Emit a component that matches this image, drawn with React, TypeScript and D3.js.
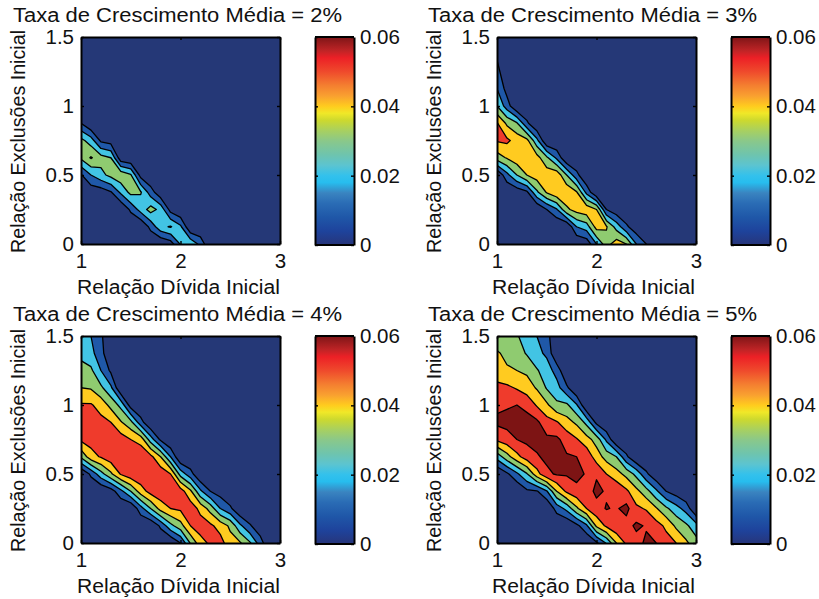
import React, { useRef, useEffect } from 'react';
import * as d3 from 'd3';

// grid of the surface: x = 1..3 step 0.1, y = 0..1.5 step 0.125
const debtRatios = d3.range(21).map(i => 1 + i / 10);
const exclusionRatios = d3.range(13).map(j => j / 8);

// values in thousandths, one list per x column, from y = 0 up to y = 1.5
const growth2 = [
    [0, 0, 0, 0, 9, 32, 33, 10, 0, 0, 0, 0, 0],
    [0, 0, 0, 3, 20, 41, 25, 0, 0, 0, 0, 0, 0],
    [0, 0, 0, 4, 27, 34, 8, 0, 0, 0, 0, 0, 0],
    [0, 0, 0, 9, 33, 30, 5, 0, 0, 0, 0, 0, 0],
    [0, 0, 0, 22, 37, 3, 0, 0, 0, 0, 0, 0, 0],
    [0, 0, 12, 33, 31, 0, 0, 0, 0, 0, 0, 0, 0],
    [0, 0, 24, 31, 6, 0, 0, 0, 0, 0, 0, 0, 0],
    [0, 13, 34, 15, 0, 0, 0, 0, 0, 0, 0, 0, 0],
    [0, 27, 27, 2, 0, 0, 0, 0, 0, 0, 0, 0, 0],
    [5, 31, 6, 0, 0, 0, 0, 0, 0, 0, 0, 0, 0],
    [21, 22, 0, 0, 0, 0, 0, 0, 0, 0, 0, 0, 0],
    [28, 0, 0, 0, 0, 0, 0, 0, 0, 0, 0, 0, 0],
    [17, 0, 0, 0, 0, 0, 0, 0, 0, 0, 0, 0, 0],
    [0, 0, 0, 0, 0, 0, 0, 0, 0, 0, 0, 0, 0],
    [0, 0, 0, 0, 0, 0, 0, 0, 0, 0, 0, 0, 0],
    [0, 0, 0, 0, 0, 0, 0, 0, 0, 0, 0, 0, 0],
    [0, 0, 0, 0, 0, 0, 0, 0, 0, 0, 0, 0, 0],
    [0, 0, 0, 0, 0, 0, 0, 0, 0, 0, 0, 0, 0],
    [0, 0, 0, 0, 0, 0, 0, 0, 0, 0, 0, 0, 0],
    [0, 0, 0, 0, 0, 0, 0, 0, 0, 0, 0, 0, 0],
    [0, 0, 0, 0, 0, 0, 0, 0, 0, 0, 0, 0, 0],
];

const growth3 = [
    [0, 0, 0, 0, 0, 35, 51, 51, 30, 20, 14, 8, 0],
    [0, 0, 0, 0, 17, 41, 52, 38, 15, 6, 0, 0, 0],
    [0, 0, 0, 3, 30, 46, 46, 31, 0, 0, 0, 0, 0],
    [0, 0, 0, 8, 40, 45, 43, 12, 0, 0, 0, 0, 0],
    [0, 0, 0, 28, 45, 44, 23, 0, 0, 0, 0, 0, 0],
    [0, 0, 10, 41, 46, 32, 0, 0, 0, 0, 0, 0, 0],
    [0, 0, 19, 48, 47, 18, 0, 0, 0, 0, 0, 0, 0],
    [0, 0, 38, 48, 30, 0, 0, 0, 0, 0, 0, 0, 0],
    [0, 20, 44, 41, 13, 0, 0, 0, 0, 0, 0, 0, 0],
    [3, 25, 47, 17, 0, 0, 0, 0, 0, 0, 0, 0, 0],
    [20, 44, 40, 0, 0, 0, 0, 0, 0, 0, 0, 0, 0],
    [36, 41, 10, 0, 0, 0, 0, 0, 0, 0, 0, 0, 0],
    [45, 26, 3, 0, 0, 0, 0, 0, 0, 0, 0, 0, 0],
    [40, 12, 0, 0, 0, 0, 0, 0, 0, 0, 0, 0, 0],
    [20, 3, 0, 0, 0, 0, 0, 0, 0, 0, 0, 0, 0],
    [10, 0, 0, 0, 0, 0, 0, 0, 0, 0, 0, 0, 0],
    [0, 0, 0, 0, 0, 0, 0, 0, 0, 0, 0, 0, 0],
    [0, 0, 0, 0, 0, 0, 0, 0, 0, 0, 0, 0, 0],
    [0, 0, 0, 0, 0, 0, 0, 0, 0, 0, 0, 0, 0],
    [0, 0, 0, 0, 0, 0, 0, 0, 0, 0, 0, 0, 0],
    [0, 0, 0, 0, 0, 0, 0, 0, 0, 0, 0, 0, 0],
];

const growth4 = [
    [0, 0, 0, 0, 0, 32, 52, 54, 51, 40, 34, 27, 22],
    [0, 0, 0, 0, 12, 46, 54, 54, 51, 39, 32, 23, 20],
    [0, 0, 0, 0, 26, 51, 54, 53, 46, 32, 20, 14, 12],
    [0, 0, 0, 5, 38, 56, 56, 50, 37, 22, 8, 0, 0],
    [0, 0, 0, 17, 51, 57, 55, 41, 27, 0, 0, 0, 0],
    [0, 0, 0, 30, 57, 57, 50, 33, 5, 0, 0, 0, 0],
    [0, 0, 16, 45, 58, 58, 46, 14, 0, 0, 0, 0, 0],
    [0, 0, 30, 54, 59, 53, 25, 0, 0, 0, 0, 0, 0],
    [0, 12, 44, 57, 57, 40, 8, 0, 0, 0, 0, 0, 0],
    [0, 27, 50, 56, 50, 20, 0, 0, 0, 0, 0, 0, 0],
    [10, 36, 52, 55, 26, 0, 0, 0, 0, 0, 0, 0, 0],
    [31, 50, 56, 42, 14, 0, 0, 0, 0, 0, 0, 0, 0],
    [46, 55, 47, 22, 0, 0, 0, 0, 0, 0, 0, 0, 0],
    [52, 52, 36, 10, 0, 0, 0, 0, 0, 0, 0, 0, 0],
    [54, 46, 20, 5, 0, 0, 0, 0, 0, 0, 0, 0, 0],
    [44, 38, 12, 0, 0, 0, 0, 0, 0, 0, 0, 0, 0],
    [41, 22, 0, 0, 0, 0, 0, 0, 0, 0, 0, 0, 0],
    [31, 11, 0, 0, 0, 0, 0, 0, 0, 0, 0, 0, 0],
    [15, 3, 0, 0, 0, 0, 0, 0, 0, 0, 0, 0, 0],
    [0, 0, 0, 0, 0, 0, 0, 0, 0, 0, 0, 0, 0],
    [0, 0, 0, 0, 0, 0, 0, 0, 0, 0, 0, 0, 0],
];

const growth5 = [
    [0, 0, 0, 0, 0, 24, 52, 62, 58, 52, 46, 41, 35],
    [0, 0, 0, 0, 8, 36, 56, 63, 59, 52, 41, 38, 34],
    [0, 0, 0, 0, 18, 47, 60, 64, 60, 49, 40, 35, 31],
    [0, 0, 0, 8, 29, 55, 62, 64, 57, 45, 38, 29, 25],
    [0, 0, 0, 9, 46, 59, 63, 62, 49, 39, 31, 23, 20],
    [0, 0, 0, 19, 58, 62, 62, 54, 42, 29, 25, 18, 14],
    [0, 0, 14, 40, 61, 63, 62, 51, 32, 24, 16, 0, 0],
    [0, 0, 23, 52, 61, 61, 56, 44, 32, 12, 0, 0, 0],
    [0, 7, 38, 57, 63, 60, 51, 38, 21, 0, 0, 0, 0],
    [0, 18, 50, 56, 59, 57, 44, 27, 0, 0, 0, 0, 0],
    [8, 42, 57, 62, 59, 45, 36, 7, 0, 0, 0, 0, 0],
    [21, 52, 60.5, 59, 50, 36, 18, 0, 0, 0, 0, 0, 0],
    [40, 58, 59, 58, 44, 30, 0, 0, 0, 0, 0, 0, 0],
    [52, 56, 63, 52, 37, 12, 0, 0, 0, 0, 0, 0, 0],
    [56, 62, 52, 43, 27, 0, 0, 0, 0, 0, 0, 0, 0],
    [62, 59, 49, 34, 12, 0, 0, 0, 0, 0, 0, 0, 0],
    [60, 54, 41, 22, 2, 0, 0, 0, 0, 0, 0, 0, 0],
    [54, 48, 32, 10, 0, 0, 0, 0, 0, 0, 0, 0, 0],
    [50, 38, 24, 5, 0, 0, 0, 0, 0, 0, 0, 0, 0],
    [42, 32, 16, 0, 0, 0, 0, 0, 0, 0, 0, 0, 0],
    [34, 24, 0, 0, 0, 0, 0, 0, 0, 0, 0, 0, 0],
];

const growthRates = ['2%', '3%', '4%', '5%'];
const grids = [growth2, growth3, growth4, growth5];

const levels = [10, 20, 30, 40, 50, 60];
const bandColors = ['#253877', '#1f58a8', '#42c4e4', '#8fcb70', '#ffcb20', '#ef3b2c', '#7d1414'];

const xTicks = [1, 2, 3];
const yTicks = [0, 0.5, 1, 1.5];
const barTicks = [0, 0.02, 0.04, 0.06];

const barStopValues = [0, 0.004, 0.008, 0.012, 0.015, 0.018, 0.02, 0.023, 0.026, 0.03, 0.033, 0.036, 0.038, 0.04, 0.043, 0.046, 0.05, 0.054, 0.056, 0.06];
const barStopColors = ['#27357a', '#1e439c', '#1f57a8', '#2a6cb5', '#3a84c0', '#27bdee', '#33c1ec', '#5cc4d0', '#6ec4ae', '#8ac88a', '#a8d060', '#cdd92e', '#f0e828', '#ffcc1e', '#f9a030', '#f47f30', '#ef4a2c', '#ec2026', '#c02426', '#7e1517'];

const FONT = '"Liberation Sans", Arial, sans-serif';

const drawPanel = (root, grid, rate, index, left, top, labelLeft, titleLeft) => {
    const plotW = 199;
    const plotH = 207;
    const g = root.append('g').attr('transform', `translate(${left},${top})`);

    const x = d3.scaleLinear().domain([1, 3]).range([0, plotW]);
    const y = d3.scaleLinear().domain([0, 1.5]).range([plotH, 0]);

    // d3.contours puts sample i at i + 0.5
    const cellX = d3.scaleLinear().domain([0.5, debtRatios.length - 0.5]).range([x(1), x(3)]);
    const cellY = d3.scaleLinear().domain([0.5, exclusionRatios.length - 0.5]).range([y(0), y(1.5)]);
    const path = d3.geoPath(d3.geoTransform({
        point(px, py) { this.stream.point(cellX(px), cellY(py)); }
    }));

    const flat = [];
    exclusionRatios.forEach((_, j) => debtRatios.forEach((_, i) => flat.push(grid[i][j])));
    const bands = d3.contours().size([debtRatios.length, exclusionRatios.length]).thresholds(levels)(flat);

    const clipId = `plot-clip-${index}`;
    g.append('clipPath').attr('id', clipId)
        .append('rect').attr('width', plotW).attr('height', plotH);

    const field = g.append('g').attr('clip-path', `url(#${clipId})`);
    field.append('rect').attr('width', plotW).attr('height', plotH).attr('fill', bandColors[0]);
    field.selectAll('path')
        .data(bands)
        .join('path')
        .attr('d', path)
        .attr('fill', (d, i) => bandColors[i + 1])
        .attr('stroke', '#000')
        .attr('stroke-width', 1.3)
        .attr('stroke-linejoin', 'round');

    const styleAxis = sel => {
        sel.selectAll('.domain').attr('stroke', '#000').attr('stroke-width', 2);
        sel.selectAll('.tick line').attr('stroke', '#000').attr('stroke-width', 1.4);
        sel.selectAll('.tick text').attr('font-size', 20.5).attr('font-family', FONT).attr('fill', '#111');
    };

    // box with inward ticks on all four sides
    g.append('g').attr('transform', `translate(0,${plotH})`)
        .call(d3.axisBottom(x).tickValues(xTicks).tickFormat(d3.format('d')).tickSizeInner(-3).tickSizeOuter(0).tickPadding(9))
        .call(styleAxis);
    g.append('g')
        .call(d3.axisTop(x).tickValues(xTicks).tickFormat('').tickSizeInner(-3).tickSizeOuter(0))
        .call(styleAxis);
    g.append('g')
        .call(d3.axisLeft(y).tickValues(yTicks).tickFormat(d => `${d}`).tickSizeInner(-3).tickSizeOuter(0).tickPadding(7))
        .call(styleAxis);
    g.append('g').attr('transform', `translate(${plotW},0)`)
        .call(d3.axisRight(y).tickValues(yTicks).tickFormat('').tickSizeInner(-3).tickSizeOuter(0))
        .call(styleAxis);

    // colorbar
    const barX = 234;
    const barW = 39;
    const barH = 208;
    const barScale = d3.scaleLinear().domain([0, 0.06]).range([barH, 0]);
    const gradId = `bar-grad-${index}`;
    const grad = g.append('linearGradient').attr('id', gradId)
        .attr('x1', 0).attr('x2', 0).attr('y1', 1).attr('y2', 0);
    barStopValues.forEach((v, i) => {
        grad.append('stop').attr('offset', v / 0.06).attr('stop-color', barStopColors[i]);
    });
    g.append('rect').attr('x', barX).attr('width', barW).attr('height', barH).attr('fill', `url(#${gradId})`);
    g.append('g').attr('transform', `translate(${barX},0)`)
        .call(d3.axisLeft(barScale).tickValues(barTicks).tickFormat('').tickSizeInner(-3).tickSizeOuter(0))
        .call(styleAxis);
    g.append('g').attr('transform', `translate(${barX + barW},0)`)
        .call(d3.axisRight(barScale).tickValues(barTicks).tickFormat(d => `${d}`).tickSizeInner(-3).tickSizeOuter(0).tickPadding(6))
        .call(styleAxis);
    g.append('line').attr('x1', barX).attr('x2', barX + barW).attr('stroke', '#000').attr('stroke-width', 2);
    g.append('line').attr('x1', barX).attr('x2', barX + barW).attr('y1', barH).attr('y2', barH).attr('stroke', '#000').attr('stroke-width', 2);

    // texts, stretched wider as in the original export
    g.append('text')
        .attr('x', titleLeft - left)
        .attr('y', -15)
        .attr('font-size', 20)
        .attr('font-family', FONT)
        .attr('fill', '#111')
        .attr('textLength', 329)
        .attr('lengthAdjust', 'spacingAndGlyphs')
        .text(`Taxa de Crescimento Média = ${rate}`);
    g.append('text')
        .attr('x', labelLeft - left)
        .attr('y', plotH + 50)
        .attr('font-size', 20)
        .attr('font-family', FONT)
        .attr('fill', '#111')
        .attr('textLength', 203)
        .attr('lengthAdjust', 'spacingAndGlyphs')
        .text('Relação Dívida Inicial');
    g.append('text')
        .attr('transform', `translate(-56,216) rotate(-90)`)
        .attr('font-size', 20)
        .attr('font-family', FONT)
        .attr('fill', '#111')
        .attr('textLength', 223)
        .attr('lengthAdjust', 'spacingAndGlyphs')
        .text('Relação Exclusões Inicial');
};

export default function App() {
    const svgRef = useRef();

    useEffect(() => {
        const svg = d3.select(svgRef.current);
        svg.selectAll('*').remove();
        const lefts = [81, 497, 81, 497];
        const tops = [37, 37, 336, 336];
        const labelLefts = [77, 492, 77, 492];
        const titleLefts = [13, 428, 13, 428];
        grids.forEach((grid, i) => drawPanel(svg, grid, growthRates[i], i, lefts[i], tops[i], labelLefts[i], titleLefts[i]));
    }, []);

    return (
        <svg
            ref={svgRef}
            width={819}
            height={599}
            style={{ position: 'absolute', left: 0, top: 0, display: 'block', background: '#fff' }}
        />
    );
}
